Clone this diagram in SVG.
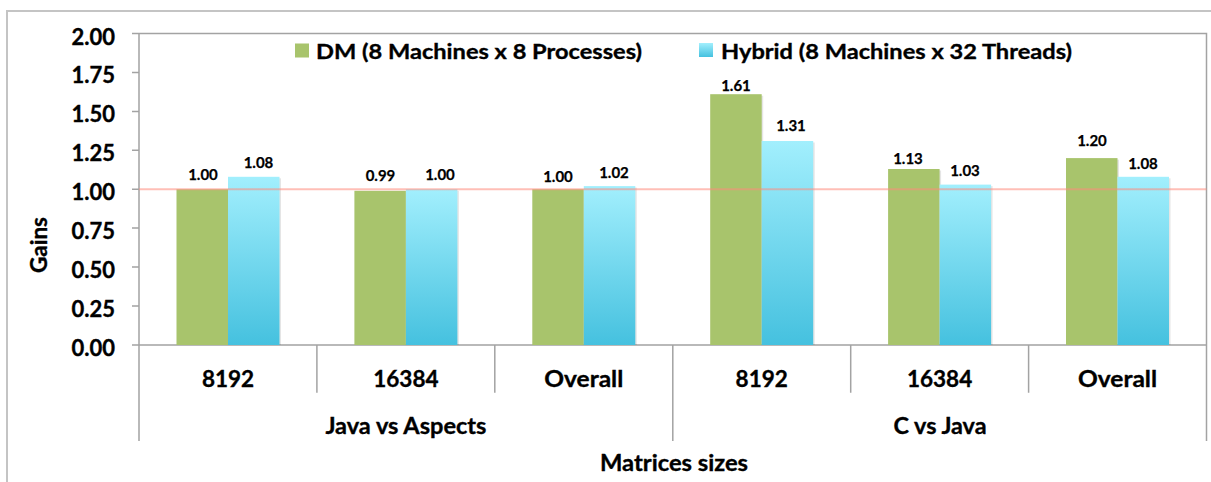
<svg xmlns="http://www.w3.org/2000/svg" width="1211" height="482" viewBox="0 0 1211 482">
  <style>
    text { font-family: Lato, "Liberation Sans", sans-serif; font-weight: bold; fill: #000; stroke: #000; stroke-width: 0.35; }
    .tick { font-size: 22px; text-anchor: end; }
    .val { font-size: 15px; text-anchor: middle; stroke-width: 0.25; }
    .cat { font-size: 22.5px; text-anchor: middle; }
    .leg { font-size: 21.5px; }
    .axis { stroke: #A3A3A3; stroke-width: 1.5; fill: none; }
    .dm { fill: #A8C46C; }
    .hy { fill: url(#hyGrad); }
    .shadow { fill: #000; opacity: 0.1; }
  </style>
  <defs>
    <linearGradient id="hyGrad" x1="0" y1="0" x2="0" y2="1">
      <stop offset="0" stop-color="#A2EFFD"/>
      <stop offset="1" stop-color="#45C1DF"/>
    </linearGradient>
  </defs>

  <rect x="0" y="0" width="1211" height="482" fill="#FFFFFF"/>
  <!-- chart frame -->
  <rect x="7" y="11" width="1214" height="490" fill="none" stroke="#C4C4C4" stroke-width="2"/>

  <!-- plot area frame, axes and ticks -->
  <g id="axes">
    <path class="axis" d="M139 33.5 H1206.5 V441 M139 33.5 V441 M132 345 H1206.5"/>
    <path class="axis" d="M132 33.5 H139 M132 72.4 H139 M132 111.4 H139 M132 150.3 H139 M132 189.3 H139 M132 228.1 H139 M132 267.1 H139 M132 306 H139"/>
    <path class="axis" d="M316.9 345 V392.7 M494.8 345 V392.7 M850.7 345 V392.7 M1028.6 345 V392.7 M672.8 345 V441"/>
  </g>

  <g id="y-labels">
    <text class="tick" x="115" y="44.5">2.00</text>
    <text class="tick" x="115" y="83.4">1.75</text>
    <text class="tick" x="115" y="122.4">1.50</text>
    <text class="tick" x="115" y="161.3">1.25</text>
    <text class="tick" x="115" y="200.3">1.00</text>
    <text class="tick" x="115" y="239.1">0.75</text>
    <text class="tick" x="115" y="278.1">0.50</text>
    <text class="tick" x="115" y="317">0.25</text>
    <text class="tick" x="115" y="356">0.00</text>
  </g>
  <text id="y-title" class="cat" transform="translate(47 245) rotate(-90)" textLength="56" lengthAdjust="spacingAndGlyphs">Gains</text>

  <!-- bars: each bar has a faint drop shadow offset down-right -->
  <g id="bars-8192-java">
    <rect class="shadow" x="178" y="190.75" width="51.5" height="154.25"/>
    <rect class="shadow" x="229.5" y="178.3" width="51.5" height="166.7"/>
    <rect class="dm" x="176.5" y="189.25" width="51.5" height="155.75"/>
    <rect class="hy" x="228" y="176.8" width="51.5" height="168.2"/>
  </g>
  <g id="bars-16384-java">
    <rect class="shadow" x="355.9" y="192.3" width="51.5" height="152.7"/>
    <rect class="shadow" x="407.4" y="190.75" width="51.5" height="154.25"/>
    <rect class="dm" x="354.4" y="190.8" width="51.5" height="154.2"/>
    <rect class="hy" x="405.9" y="189.25" width="51.5" height="155.75"/>
  </g>
  <g id="bars-overall-java">
    <rect class="shadow" x="533.8" y="190.75" width="51.5" height="154.25"/>
    <rect class="shadow" x="585.3" y="187.6" width="51.5" height="157.4"/>
    <rect class="dm" x="532.3" y="189.25" width="51.5" height="155.75"/>
    <rect class="hy" x="583.8" y="186.1" width="51.5" height="158.9"/>
  </g>
  <g id="bars-8192-c">
    <rect class="shadow" x="711.7" y="95.7" width="51.5" height="249.3"/>
    <rect class="shadow" x="763.2" y="142.5" width="51.5" height="202.5"/>
    <rect class="dm" x="710.2" y="94.2" width="51.5" height="250.8"/>
    <rect class="hy" x="761.7" y="141" width="51.5" height="204"/>
  </g>
  <g id="bars-16384-c">
    <rect class="shadow" x="889.6" y="170.5" width="51.5" height="174.5"/>
    <rect class="shadow" x="941.1" y="186.1" width="51.5" height="158.9"/>
    <rect class="dm" x="888.1" y="169" width="51.5" height="176"/>
    <rect class="hy" x="939.6" y="184.6" width="51.5" height="160.4"/>
  </g>
  <g id="bars-overall-c">
    <rect class="shadow" x="1067.5" y="159.6" width="51.5" height="185.4"/>
    <rect class="shadow" x="1119" y="178.3" width="51.5" height="166.7"/>
    <rect class="dm" x="1066" y="158.1" width="51.5" height="186.9"/>
    <rect class="hy" x="1117.5" y="176.8" width="51.5" height="168.2"/>
  </g>

  <!-- reference line at 1.00 -->
  <g id="connectors">
    <line x1="139" y1="189.3" x2="1206.5" y2="189.3" stroke="#FF8A7C" stroke-opacity="0.55" stroke-width="2"/>
  </g>

  <g id="value-labels">
    <text class="val" x="203" y="180">1.00</text>
    <text class="val" x="258.5" y="168.3">1.08</text>
    <text class="val" x="380.5" y="180.7">0.99</text>
    <text class="val" x="440" y="180">1.00</text>
    <text class="val" x="558" y="181.7">1.00</text>
    <text class="val" x="614" y="178.3">1.02</text>
    <text class="val" x="736" y="90.7">1.61</text>
    <text class="val" x="791" y="131">1.31</text>
    <text class="val" x="908" y="164">1.13</text>
    <text class="val" x="965" y="176">1.03</text>
    <text class="val" x="1092" y="146">1.20</text>
    <text class="val" x="1143" y="169">1.08</text>
  </g>

  <g id="category-labels">
    <text class="cat" x="228" y="386.7">8192</text>
    <text class="cat" x="405.9" y="386.7">16384</text>
    <text class="cat" x="583.8" y="386.7" textLength="79" lengthAdjust="spacingAndGlyphs">Overall</text>
    <text class="cat" x="761.7" y="386.7">8192</text>
    <text class="cat" x="939.6" y="386.7">16384</text>
    <text class="cat" x="1117.5" y="386.7" textLength="79" lengthAdjust="spacingAndGlyphs">Overall</text>
    <text class="cat" x="405.9" y="434" textLength="161" lengthAdjust="spacingAndGlyphs">Java vs Aspects</text>
    <text class="cat" x="940" y="434" textLength="93" lengthAdjust="spacingAndGlyphs">C vs Java</text>
    <text class="cat" x="674" y="471" textLength="148" lengthAdjust="spacingAndGlyphs">Matrices sizes</text>
  </g>

  <g id="legend">
    <g id="legend-dm">
      <rect class="dm" x="295" y="43.5" width="14" height="14"/>
      <text class="leg" x="316" y="59" textLength="326" lengthAdjust="spacingAndGlyphs">DM (8 Machines x 8 Processes)</text>
    </g>
    <g id="legend-hybrid">
      <rect class="hy" x="699" y="43" width="14" height="14"/>
      <text class="leg" x="721" y="59" textLength="351" lengthAdjust="spacingAndGlyphs">Hybrid (8 Machines x 32 Threads)</text>
    </g>
  </g>
</svg>
